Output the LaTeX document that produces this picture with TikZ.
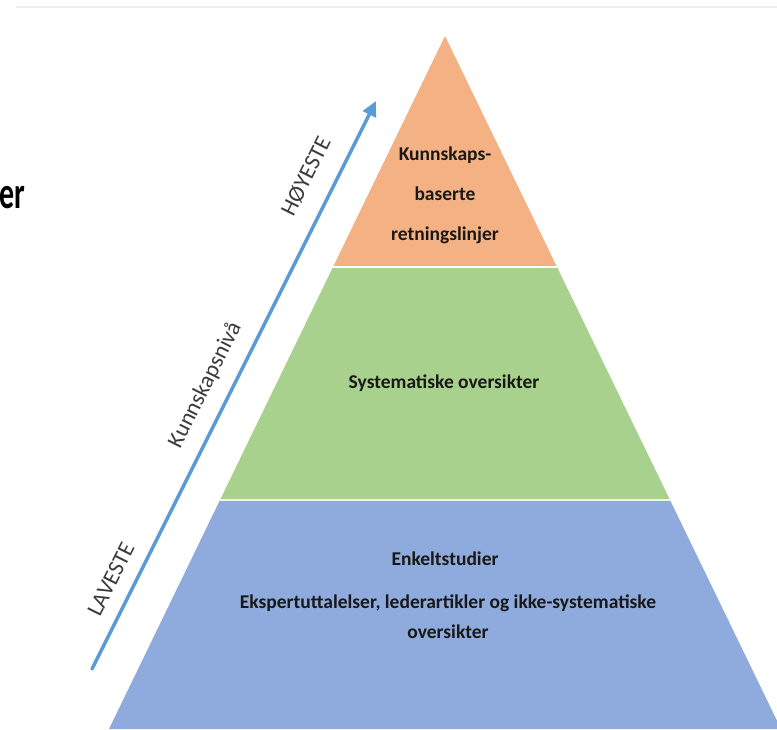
\documentclass[tikz,border=0pt]{standalone}
\usepackage{fontspec}
\setmainfont{Carlito}
\usepackage{tikz}
\usetikzlibrary{arrows.meta, positioning, calc}
\usepackage{xcolor}
\definecolor{toplayer}{RGB}{244,177,131}
\definecolor{midlayer}{RGB}{169,209,142}
\definecolor{baselayer}{RGB}{143,170,220}
\definecolor{levelarrow}{RGB}{91,155,213}
\definecolor{labeltext}{RGB}{24,24,24}
\tikzset{%
	layer label/.style={
		text=labeltext,
		font=\bfseries\fontsize{19.5}{30}\selectfont,
		align=center,
		inner sep=0pt
	},
	level label/.style={
		text=labeltext!85,
		font=\fontsize{23}{23}\selectfont,
		sloped,
		above=14pt,
		inner sep=0pt
	},
}

\begin{document}
\begin{tikzpicture}[x=1pt, y=1pt]
	\useasboundingbox (0,0) rectangle (777,729);
	\clip (0,0) rectangle (777,729);
	% faint edge at the top
	\draw[black!6, line width=2.5pt] (16,722) -- (777,722);
	
	% corners of the layers
	\coordinate (apex) at (445,693);
	\coordinate (topL) at (333,462);
	\coordinate (topR) at (557,462);
	\coordinate (midL) at (220,229);
	\coordinate (midR) at (670,229);
	\coordinate (botL) at (109,0);
	\coordinate (botR) at (781,0);
	
	\fill[toplayer] (apex) -- (topR) -- (topL) -- cycle;
	\fill[midlayer] (topL) -- (topR) -- (midR) -- (midL) -- cycle;
	\fill[baselayer] (midL) -- (midR) -- (botR) -- (botL) -- cycle;
	\draw[white, line width=1.5pt] (topL) -- (topR);
	\draw[white!80!midlayer, line width=1.5pt] (midL) -- (midR);
	
	\node[layer label, font=\bfseries\fontsize{19.5}{40}\selectfont] (guidelines) at (445,534) {Kunnskaps-\\baserte\\retningslinjer};
	\node[layer label] (reviews) at (444,346) {Systematiske oversikter};
	\node[layer label] (single) at (445,170) {Enkeltstudier};
	\node[layer label] (opinions) at (448,112) {Ekspertuttalelser, lederartikler og ikke-systematiske\\oversikter};
	
	% knowledge level
	\coordinate (low) at (92,60);
	\coordinate (high) at (376,628);
	\draw[levelarrow, line width=3.5pt, line cap=round, -{Triangle[length=15pt, width=14pt]}] (low) -- (high)
		node[level label, pos=0.14] (lowest) {LAVESTE}
		node[level label, pos=0.48] (level) {Kunnskapsnivå}
		node[level label, pos=0.845, above=19pt] (highest) {HØYESTE};
	
	% cut title
	\node[anchor=base east, inner sep=0pt, font=\bfseries\fontsize{30}{30}\selectfont] (title) at (25,520) {\scalebox{1}[1.5]{er}};
\end{tikzpicture}
\end{document}
